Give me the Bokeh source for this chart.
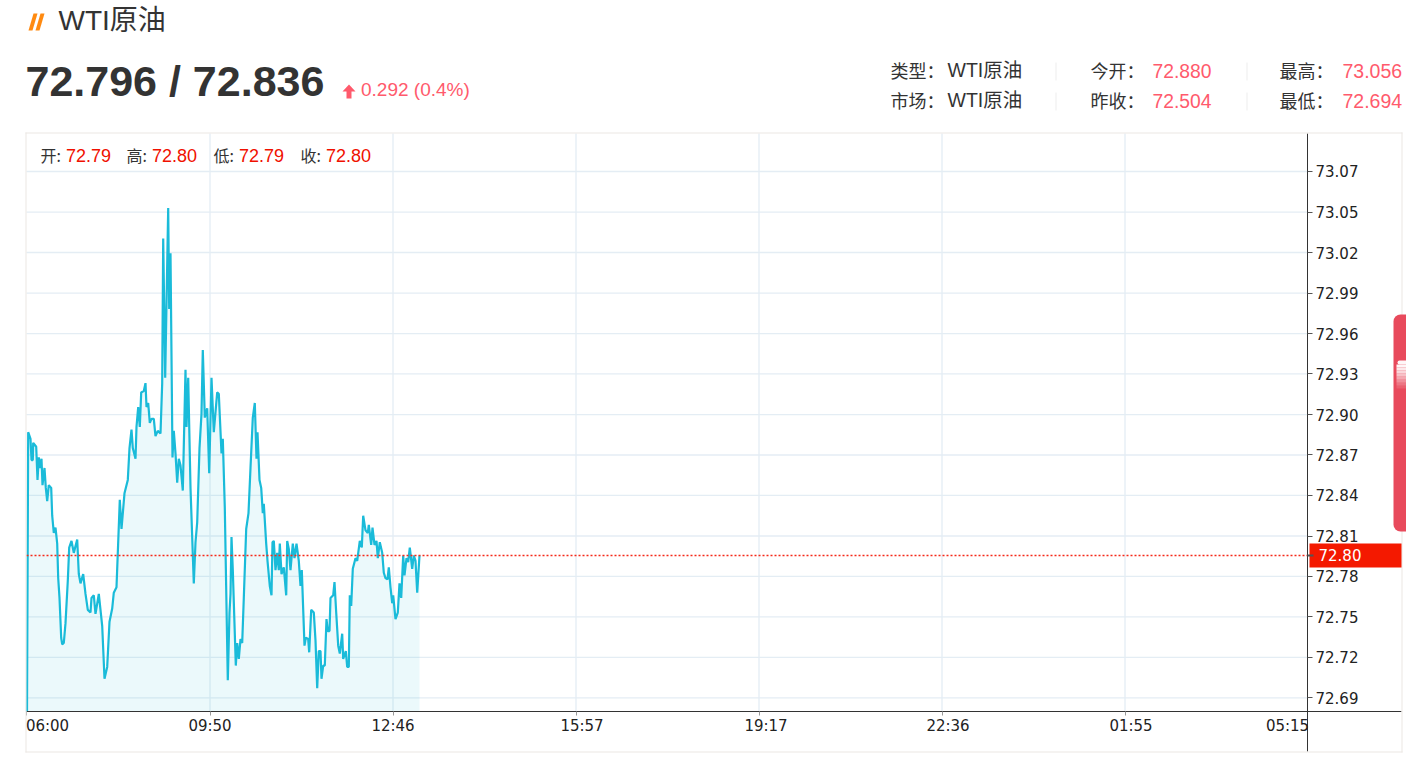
from bokeh.plotting import figure
from bokeh.models import BoxAnnotation, PolyAnnotation, Label, FixedTicker, Range1d
from bokeh.embed import file_html
from bokeh.resources import INLINE

# ---- chart data -------------------------------------------------------
title = "WTI原油"
bid_ask = "72.796 / 72.836"
change = "0.292 (0.4%)"
last_price = 72.796
last_label = "72.80"

minutes = [0.5,1.7,4,5,6.3,6.7,9.7,11,12.3,13.3,15,16,18,19.3,20.7,22.3,24.7,25.7,27.3,29,30.7,31.7,33,34.7,35.7,37.3,39,41.3,42.7,45,47.3,50.7,52.3,54,56.7,59,61.3,64,65,67.3,69,72.3,75.7,78,80.7,83,85.7,87.3,90,91.3,93.3,95,98,101.3,103,105,106.3,109,110,111.7,113.3,114.7,117.3,119,120,121.7,123.3,125,127.3,129,131.3,134,135.7,136.7,138.7,141.7,142.7,144,146,147.3,149,150.7,152.3,154,156.3,159,160,161.7,164,167.3,169,170.7,173,175,176.3,178.3,180.7,182.7,185,187.3,190.7,192.3,195,196.3,198.3,201.3,203,204,205,206.3,209.3,210.7,212.3,214,215.7,217.3,219.7,222,224,226.3,228.3,230,231,233,234.7,236.3,237.3,239.7,241,243.3,245,246,247.3,249,250.7,252.3,253.3,255,257.3,259.7,260.7,262.3,264,266.3,268,270,272.3,274,275.3,278,279.3,281.7,282.7,284.7,287.3,289,290.7,292.3,294,295,296.7,298.3,300,301.3,303,304,306.7,308,309.7,311.7,313.3,315.7,316.7,319.3,320.7,322.3,323.3,324.7,326.3,329,330.7,333.3,335.3,336.7,339,341.3,342.3,344.7,346,348,350,351.3,353.3,355.7,357.3,359,361,362.3,364,365.7,366.7,369,371.3,373,374.7,376.7,378,380,381.7,383.3,385.7,387.3,389,390.7,393]
prices = [72.678,72.889,72.884,72.868,72.868,72.881,72.878,72.853,72.870,72.862,72.869,72.849,72.862,72.847,72.837,72.849,72.847,72.826,72.813,72.817,72.805,72.779,72.764,72.734,72.729,72.730,72.745,72.777,72.802,72.807,72.798,72.808,72.782,72.775,72.782,72.767,72.755,72.753,72.764,72.766,72.752,72.767,72.743,72.703,72.712,72.746,72.756,72.768,72.772,72.798,72.838,72.816,72.843,72.853,72.877,72.891,72.877,72.869,72.893,72.908,72.893,72.919,72.920,72.926,72.908,72.911,72.896,72.899,72.899,72.886,72.890,72.888,72.926,73.035,72.930,73.058,72.982,73.024,72.870,72.890,72.873,72.851,72.869,72.864,72.845,72.936,72.893,72.930,72.847,72.775,72.806,72.821,72.877,72.903,72.951,72.900,72.907,72.858,72.930,72.889,72.919,72.918,72.873,72.884,72.832,72.702,72.753,72.767,72.810,72.785,72.713,72.730,72.718,72.733,72.730,72.764,72.816,72.828,72.862,72.900,72.911,72.869,72.889,72.853,72.847,72.828,72.835,72.805,72.792,72.773,72.766,72.806,72.807,72.785,72.798,72.785,72.805,72.782,72.787,72.766,72.807,72.801,72.785,72.805,72.794,72.805,72.792,72.773,72.785,72.728,72.734,72.733,72.723,72.755,72.753,72.732,72.696,72.724,72.724,72.703,72.713,72.713,72.748,72.739,72.739,72.764,72.766,72.776,72.753,72.728,72.722,72.737,72.718,72.724,72.712,72.712,72.766,72.758,72.786,72.794,72.792,72.807,72.802,72.826,72.815,72.813,72.819,72.804,72.817,72.804,72.807,72.794,72.806,72.798,72.783,72.779,72.778,72.787,72.772,72.760,72.766,72.748,72.753,72.775,72.764,72.796,72.781,72.794,72.791,72.802,72.786,72.796,72.792,72.768,72.796]

y_ticks = [72.6886,72.7191,72.7497,72.7802,72.8107,72.8413,72.8718,72.9023,72.9329,72.9634,72.9939,73.0245,73.055,73.0856]
y_tick_labels = ["72.69","72.72","72.75","72.78","72.81","72.84","72.87","72.90","72.93","72.96","72.99","73.02","73.05","73.07"]
x_ticks = [0,183.5,366.5,549.5,732.5,915.5,1098.5,1281]
x_tick_labels = ["06:00","09:50","12:46","15:57","19:17","22:36","01:55","05:15"]
x_label_shift = [21,0,0,6,7,6,6,-20]

stat_rows = [
    ("类型：","WTI原油","今开：","72.880","最高：","73.056"),
    ("市场：","WTI原油","昨收：","72.504","最低：","72.694"),
]
ohlc = [("开:","72.79"),("高:","72.80"),("低:","72.79"),("收:","72.80")]

# value scale: the plot panel runs from these values
panel_bottom = 72.6784
panel_top = 73.1142
axis_foot = 72.6482
x_panel_end = 1281

# ---- figure ----------------------------------------------------------
CJK = "Noto Sans CJK SC"
ARIAL = "Liberation Sans"
MIXED = "Liberation Sans, Noto Sans CJK SC"
AXIS = "DejaVu Sans"
DARK = "#333333"
RED = "#ff5a6c"
CUR = "#f01000"
GRID = "#e4edf4"
W, H = 1406, 766

p = figure(width=W, height=H, output_backend="svg", toolbar_location=None,
           x_range=Range1d(-26, 1380), y_range=Range1d(72.63688, 73.21455),
           x_axis_location="below", y_axis_location="right",
           min_border_left=0, min_border_right=0, min_border_top=0, min_border_bottom=0)
p.outline_line_color = None
p.background_fill_color = "white"
p.border_fill_color = "white"
p.xgrid.visible = False
p.ygrid.visible = False

# grid through the scales
p.segment(x0=[0] * len(y_ticks), x1=[x_panel_end] * len(y_ticks), y0=y_ticks, y1=y_ticks,
          line_color=GRID, line_width=1.3)
inner = x_ticks[1:-1]
p.segment(x0=inner, x1=inner, y0=[panel_bottom] * len(inner), y1=[panel_top] * len(inner),
          line_color=GRID, line_width=1.3)

p.xaxis.fixed_location = panel_bottom
p.xaxis.bounds = (0, 1375)
p.xaxis.ticker = FixedTicker(ticks=x_ticks)
p.xaxis.major_label_overrides = {t: "" for t in x_ticks}
p.xaxis.axis_line_color = "#333333"
p.xaxis.major_tick_line_color = "#999999"
p.xaxis.major_tick_out = 4
p.xaxis.major_tick_in = 0
p.xaxis.minor_tick_line_color = None

p.yaxis.fixed_location = x_panel_end
p.yaxis.bounds = (axis_foot, panel_top)
p.yaxis.ticker = FixedTicker(ticks=y_ticks)
p.yaxis.major_label_overrides = dict(zip(y_ticks, y_tick_labels))
p.yaxis.axis_line_color = "#333333"
p.yaxis.major_tick_line_color = "#555555"
p.yaxis.major_tick_out = 5
p.yaxis.major_tick_in = 0
p.yaxis.minor_tick_line_color = None
p.yaxis.major_label_standoff = 3
p.yaxis.major_label_text_font = AXIS
p.yaxis.major_label_text_font_size = "15px"
p.yaxis.major_label_text_color = "#222222"

floor = [panel_bottom] * len(minutes)
p.varea(x=minutes, y1=floor, y2=prices, fill_color="#1dbcd8", fill_alpha=0.09)
p.line(x=minutes, y=prices, line_color="#1abbd9", line_width=2.2)
p.line(x=[0, x_panel_end], y=[last_price, last_price], line_color="#f52a1a",
       line_dash="2 2", line_width=1.5)


def cbox(l, t, r, b, color, alpha=1.0, radius=0):
    p.add_layout(BoxAnnotation(left=l, right=r, top=t, bottom=b,
                               left_units="canvas", right_units="canvas",
                               top_units="canvas", bottom_units="canvas",
                               fill_color=color, fill_alpha=alpha, line_color=None,
                               border_radius=radius))


def cpoly(pts, color):
    p.add_layout(PolyAnnotation(xs=[a for a, _ in pts], ys=[b for _, b in pts],
                                xs_units="canvas", ys_units="canvas",
                                fill_color=color, fill_alpha=1, line_color=None))


def ctext(x, y, text, size, color=DARK, font=CJK, style="normal", align="left"):
    p.add_layout(Label(x=x, y=y, x_units="canvas", y_units="canvas", text=text,
                       text_font=font, text_font_size=f"{size}px", text_color=color,
                       text_font_style=style, text_align=align, text_baseline="middle"))


# outer border
BORDER = "#ebe7e3"
cbox(25, 132, 26, 752, BORDER)
cbox(25, 132, 1402, 133, BORDER)
cbox(1401, 132, 1402, 752, BORDER)
cbox(25, 751, 1402, 752, BORDER)

# side tab
cbox(1393, 314, 1416, 531, "#e84a5c", radius=7)
cbox(1397, 360, 1416, 364, "#ffffff", alpha=0.95, radius=2)
for i, a in enumerate([0.95, 0.88, 0.78, 0.66, 0.52, 0.38, 0.24, 0.12]):
    cbox(1396, 364 + i * 3, 1406, 367 + i * 3, "#ffffff", alpha=a)

# price tag
cbox(1309, 543, 1401, 567, "#f41900")
cbox(1307, 554, 1313, 556, "#555555")
ctext(1318, 554.5, last_label, 15, color="white", font=AXIS)

# x tick labels
for t, lab, shift in zip(x_ticks, x_tick_labels, x_label_shift):
    ctext(26 + t + shift, 725, lab, 15, color="#222222", font=AXIS, align="center")

# header
cpoly([(33, 13), (37, 13), (32, 30), (28, 30)], "#ff8a10")
cpoly([(40, 13), (44, 13), (39, 30), (35, 30)], "#ff8a10")
ctext(58, 19.5, title, 28, font=MIXED)
ctext(25, 80.5, bid_ask, 43, font=ARIAL, style="bold")
cpoly([(348.5, 84), (355, 91), (351, 91), (351, 98), (346, 98), (346, 91), (342, 91)], RED)
ctext(360.5, 88.5, change, 19, color=RED, font=ARIAL)

for r, row in enumerate(stat_rows):
    y = 70 + 30 * r
    ctext(890, y - 0.5, row[0], 18)
    ctext(947, y - 0.5, row[1], 19.5, font=MIXED)
    ctext(1090, y - 0.5, row[2], 18)
    ctext(1152, y, row[3], 19.3, color=RED, font=ARIAL)
    ctext(1279, y - 0.5, row[4], 18)
    ctext(1342, y, row[5], 19.5, color=RED, font=ARIAL)
    cbox(1055, y - 8, 1056, y + 10, "#eeeeee")
    cbox(1246, y - 8, 1247, y + 10, "#eeeeee")

for (lab, val), x0 in zip(ohlc, [40, 126, 213, 300]):
    ctext(x0, 154.5, lab, 16)
    ctext(x0 + 25.5, 155, val, 18, color=CUR, font=ARIAL)

open("out.html", "w").write(file_html(p, INLINE))
